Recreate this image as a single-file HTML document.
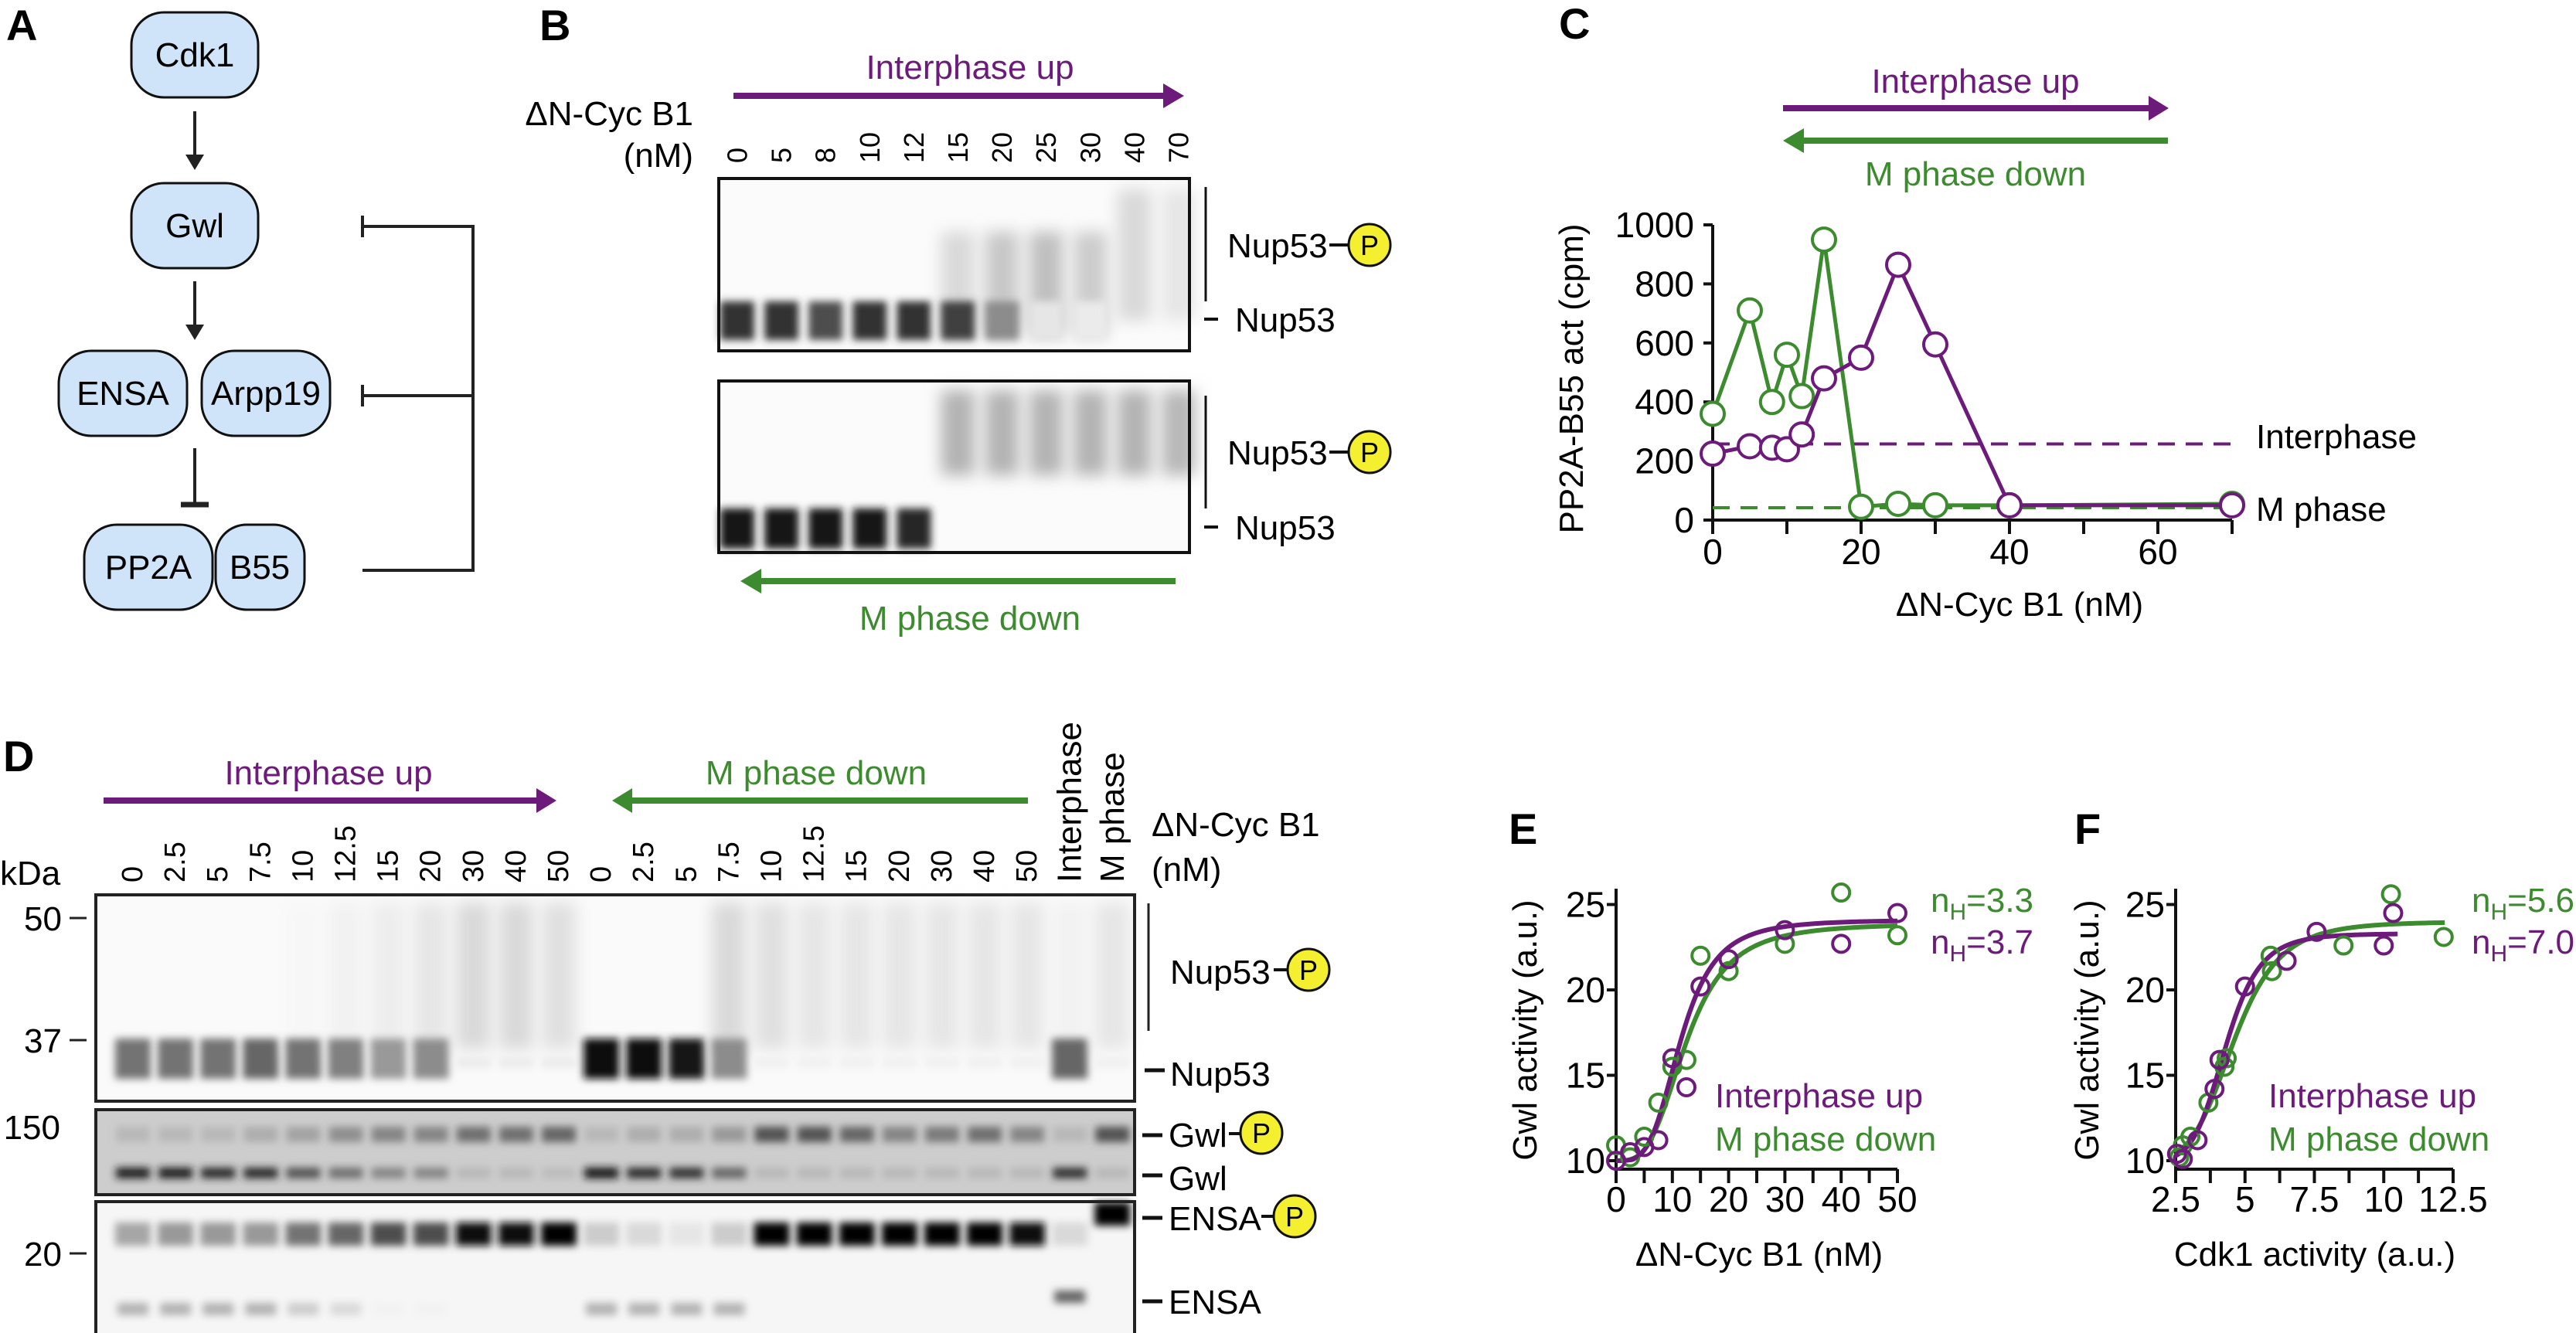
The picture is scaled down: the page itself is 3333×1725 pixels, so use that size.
<!DOCTYPE html>
<html><head><meta charset="utf-8"><style>
html,body{margin:0;padding:0;background:#fff}
svg{display:block}
text{font-family:"Liberation Sans",sans-serif}
</style></head><body>
<svg id="fig" xmlns="http://www.w3.org/2000/svg" width="3333" height="1725" viewBox="0 0 3333 1725">
<defs>
<filter id="b1" x="-50%" y="-100%" width="200%" height="300%"><feGaussianBlur stdDeviation="5"/></filter>
<filter id="b2" x="-50%" y="-50%" width="200%" height="200%"><feGaussianBlur stdDeviation="10"/></filter>
</defs>
<!-- PANEL A -->
<g font-size="44" text-anchor="middle">
<text x="8" y="52" font-size="56" font-weight="bold" text-anchor="start">A</text>
<rect x="170" y="16" width="164" height="110" rx="42" fill="#cfe4f8" stroke="#111" stroke-width="3"/>
<text x="252" y="86">Cdk1</text>
<line x1="252" y1="144" x2="252" y2="205" stroke="#222" stroke-width="4"/>
<polygon points="240,200 264,200 252,220" fill="#222"/>
<rect x="170" y="237" width="164" height="110" rx="42" fill="#cfe4f8" stroke="#111" stroke-width="3"/>
<text x="252" y="307">Gwl</text>
<line x1="252" y1="364" x2="252" y2="425" stroke="#222" stroke-width="4"/>
<polygon points="240,420 264,420 252,440" fill="#222"/>
<rect x="76" y="454" width="166" height="110" rx="42" fill="#cfe4f8" stroke="#111" stroke-width="3"/>
<text x="159" y="524">ENSA</text>
<rect x="261" y="454" width="166" height="110" rx="42" fill="#cfe4f8" stroke="#111" stroke-width="3"/>
<text x="344" y="524">Arpp19</text>
<line x1="252" y1="580" x2="252" y2="652" stroke="#222" stroke-width="4"/>
<line x1="234" y1="653" x2="270" y2="653" stroke="#222" stroke-width="7"/>
<rect x="109" y="679" width="166" height="110" rx="42" fill="#cfe4f8" stroke="#111" stroke-width="3"/>
<text x="192" y="749">PP2A</text>
<rect x="279" y="679" width="115" height="110" rx="40" fill="#cfe4f8" stroke="#111" stroke-width="3"/>
<text x="336" y="749">B55</text>
<g stroke="#222" stroke-width="4" fill="none">
<polyline points="469,293 612,293 612,738 469,738"/>
<line x1="469" y1="512" x2="612" y2="512"/>
<line x1="469" y1="279" x2="469" y2="307"/>
<line x1="469" y1="498" x2="469" y2="526"/>
</g>
</g>
<!-- PANEL B static -->
<g font-size="44">
<text x="698" y="52" font-size="56" font-weight="bold">B</text>
<text x="1255" y="102" fill="#6d1b7b" text-anchor="middle">Interphase up</text>
<line x1="949" y1="124" x2="1510" y2="124" stroke="#6d1b7b" stroke-width="8"/>
<polygon points="1505,108 1532,124 1505,140" fill="#6d1b7b"/>
<text x="897" y="162" text-anchor="end">ΔN-Cyc B1</text>
<text x="897" y="216" text-anchor="end">(nM)</text>
<rect x="930" y="231" width="609" height="223" fill="#fbfbfb"/>
<rect x="930" y="493" width="609" height="222" fill="#fbfbfb"/>
<g id="bblots"></g>
<rect x="930" y="231" width="609" height="223" fill="none" stroke="#111" stroke-width="4"/>
<rect x="930" y="493" width="609" height="222" fill="none" stroke="#111" stroke-width="4"/>
<line x1="1560" y1="242" x2="1560" y2="390" stroke="#111" stroke-width="3"/>
<text x="1588" y="333">Nup53</text>
<line x1="1720" y1="317" x2="1746" y2="317" stroke="#111" stroke-width="4"/>
<circle cx="1772" cy="317" r="27" fill="#f4ef2f" stroke="#111" stroke-width="3"/>
<text x="1772" y="330" font-size="36" text-anchor="middle">P</text>
<line x1="1558" y1="413" x2="1576" y2="413" stroke="#111" stroke-width="4"/>
<text x="1598" y="429">Nup53</text>
<line x1="1560" y1="512" x2="1560" y2="658" stroke="#111" stroke-width="3"/>
<text x="1588" y="601">Nup53</text>
<line x1="1720" y1="585" x2="1746" y2="585" stroke="#111" stroke-width="4"/>
<circle cx="1772" cy="585" r="27" fill="#f4ef2f" stroke="#111" stroke-width="3"/>
<text x="1772" y="598" font-size="36" text-anchor="middle">P</text>
<line x1="1558" y1="682" x2="1576" y2="682" stroke="#111" stroke-width="4"/>
<text x="1598" y="698">Nup53</text>
<line x1="980" y1="752" x2="1521" y2="752" stroke="#3d8b2f" stroke-width="8"/>
<polygon points="985,736 958,752 985,768" fill="#3d8b2f"/>
<text x="1255" y="815" fill="#3d8b2f" text-anchor="middle">M phase down</text>
</g>
<!-- PANEL C -->
<g id="pc" font-size="44">
<text x="2017" y="50" font-size="56" font-weight="bold">C</text>
<text x="2556" y="120" fill="#6d1b7b" text-anchor="middle">Interphase up</text>
<line x1="2307" y1="140" x2="2785" y2="140" stroke="#6d1b7b" stroke-width="8"/>
<polygon points="2780,124 2806,140 2780,156" fill="#6d1b7b"/>
<line x1="2330" y1="182" x2="2805" y2="182" stroke="#3d8b2f" stroke-width="8"/>
<polygon points="2334,166 2307,182 2334,198" fill="#3d8b2f"/>
<text x="2556" y="240" fill="#3d8b2f" text-anchor="middle">M phase down</text>
<text transform="translate(2048,490) rotate(-90)" text-anchor="middle">PP2A-B55 act (cpm)</text>
<text x="2613" y="797" text-anchor="middle">ΔN-Cyc B1 (nM)</text>
</g>
<!-- PANEL D static -->
<g font-size="44">
<text x="4" y="998" font-size="56" font-weight="bold">D</text>
<text x="425" y="1015" fill="#6d1b7b" text-anchor="middle">Interphase up</text>
<line x1="134" y1="1036" x2="698" y2="1036" stroke="#6d1b7b" stroke-width="8"/>
<polygon points="694,1020 720,1036 694,1052" fill="#6d1b7b"/>
<text x="1056" y="1015" fill="#3d8b2f" text-anchor="middle">M phase down</text>
<line x1="815" y1="1036" x2="1330" y2="1036" stroke="#3d8b2f" stroke-width="8"/>
<polygon points="818,1020 792,1036 818,1052" fill="#3d8b2f"/>
<text x="1490" y="1082">ΔN-Cyc B1</text>
<text x="1490" y="1140">(nM)</text>
<text x="0" y="1145">kDa</text>
<rect x="124" y="1158" width="1344" height="267" fill="#fafafa"/>
<rect x="124" y="1436" width="1344" height="110" fill="#cdcdcd"/>
<rect x="124" y="1555" width="1344" height="172" fill="#f6f6f6"/>
<g id="dblots"></g>
<rect x="124" y="1158" width="1344" height="267" fill="none" stroke="#222" stroke-width="4"/>
<rect x="124" y="1436" width="1344" height="110" fill="none" stroke="#222" stroke-width="4"/>
<rect x="124" y="1555" width="1344" height="172" fill="none" stroke="#222" stroke-width="4"/>
<g>
<text x="80" y="1204" text-anchor="end">50</text><line x1="90" y1="1188" x2="112" y2="1188" stroke="#222" stroke-width="3"/>
<text x="80" y="1362" text-anchor="end">37</text><line x1="90" y1="1346" x2="112" y2="1346" stroke="#222" stroke-width="3"/>
<text x="78" y="1474" text-anchor="end">150</text>
<text x="80" y="1638" text-anchor="end">20</text><line x1="90" y1="1622" x2="112" y2="1622" stroke="#222" stroke-width="3"/>
</g>
<line x1="1486" y1="1169" x2="1486" y2="1334" stroke="#222" stroke-width="3"/>
<text x="1514" y="1273">Nup53</text>
<line x1="1648" y1="1255" x2="1668" y2="1255" stroke="#111" stroke-width="4"/>
<circle cx="1693" cy="1255" r="27" fill="#f4ef2f" stroke="#111" stroke-width="3"/>
<text x="1693" y="1268" font-size="36" text-anchor="middle">P</text>
<line x1="1481" y1="1385" x2="1507" y2="1385" stroke="#111" stroke-width="5"/>
<text x="1514" y="1405">Nup53</text>
<line x1="1478" y1="1469" x2="1504" y2="1469" stroke="#111" stroke-width="5"/>
<text x="1512" y="1484">Gwl</text>
<line x1="1590" y1="1467" x2="1608" y2="1467" stroke="#111" stroke-width="4"/>
<circle cx="1632" cy="1466" r="27" fill="#f4ef2f" stroke="#111" stroke-width="3"/>
<text x="1632" y="1479" font-size="36" text-anchor="middle">P</text>
<line x1="1478" y1="1521" x2="1504" y2="1521" stroke="#111" stroke-width="5"/>
<text x="1512" y="1540">Gwl</text>
<line x1="1478" y1="1576" x2="1504" y2="1576" stroke="#111" stroke-width="5"/>
<text x="1512" y="1592">ENSA</text>
<line x1="1632" y1="1574" x2="1650" y2="1574" stroke="#111" stroke-width="4"/>
<circle cx="1675" cy="1574" r="27" fill="#f4ef2f" stroke="#111" stroke-width="3"/>
<text x="1675" y="1587" font-size="36" text-anchor="middle">P</text>
<line x1="1478" y1="1684" x2="1504" y2="1684" stroke="#111" stroke-width="5"/>
<text x="1512" y="1700">ENSA</text>
</g>
<!-- PANEL E / F static -->
<g font-size="44">
<text x="1952" y="1092" font-size="56" font-weight="bold">E</text>
<text x="2684" y="1092" font-size="56" font-weight="bold">F</text>
<text transform="translate(1988,1333) rotate(-90)" text-anchor="middle">Gwl activity (a.u.)</text>
<text transform="translate(2715,1333) rotate(-90)" text-anchor="middle">Gwl activity (a.u.)</text>
<text x="2276" y="1638" text-anchor="middle">ΔN-Cyc B1 (nM)</text>
<text x="2995" y="1638" text-anchor="middle">Cdk1 activity (a.u.)</text>
<text x="2219" y="1433" fill="#6d1b7b">Interphase up</text>
<text x="2219" y="1489" fill="#3d8b2f">M phase down</text>
<text x="2935" y="1433" fill="#6d1b7b">Interphase up</text>
<text x="2935" y="1489" fill="#3d8b2f">M phase down</text>
<text x="2498" y="1180" fill="#3d8b2f">n<tspan font-size="30" dy="10">H</tspan><tspan dy="-10">=3.3</tspan></text>
<text x="2498" y="1234" fill="#6d1b7b">n<tspan font-size="30" dy="10">H</tspan><tspan dy="-10">=3.7</tspan></text>
<text x="3198" y="1180" fill="#3d8b2f">n<tspan font-size="30" dy="10">H</tspan><tspan dy="-10">=5.6</tspan></text>
<text x="3198" y="1234" fill="#6d1b7b">n<tspan font-size="30" dy="10">H</tspan><tspan dy="-10">=7.0</tspan></text>
</g>
<g id="dyn"></g>
</svg>
<script>
// ===== Panel B data =====
const bLanes = ["0","5","8","10","12","15","20","25","30","40","70"];
const bBlot1Band = [0.8,0.8,0.7,0.8,0.8,0.75,0.45,0.1,0.08,0.02,0.02];
const bBlot1Smear = [0,0,0,0,0,0.15,0.22,0.25,0.2,0.15,0.1];
const bBlot2Band = [0.9,0.9,0.9,0.9,0.85,0,0,0,0,0,0];
const bBlot2Smear = [0,0,0,0,0,0.3,0.3,0.3,0.3,0.3,0.28];
// ===== Panel C data =====
const cX = [0,5,8,10,12,15,20,25,30,40,70];
const cInterphaseUp = [225,250,245,240,290,480,550,865,595,50,50];
const cMPhaseDown = [360,710,400,560,420,950,45,55,50,50,55];
const cRefInterphase = 258;
const cRefMPhase = 42;
const cYTicks = [0,200,400,600,800,1000];
const cXTickLabels = [0,20,40,60];
// ===== Panel D data =====
const dLanes = ["0","2.5","5","7.5","10","12.5","15","20","30","40","50","0","2.5","5","7.5","10","12.5","15","20","30","40","50","Interphase","M phase"];
const dNup53 = [.55,.55,.55,.6,.55,.5,.4,.45,.08,.08,.08,.95,.95,.9,.45,.06,.06,.06,.06,.06,.06,.06,.6,.06];
const dNup53P = [0,0,0,0,.03,.05,.07,.1,.15,.15,.12,0,0,0,.15,.12,.1,.1,.1,.1,.1,.1,.05,.1];
const dGwl = [.85,.85,.8,.8,.6,.45,.35,.35,.1,.1,.08,.9,.8,.75,.5,.1,.1,.1,.1,.1,.1,.1,.75,.1];
const dGwlP = [.1,.1,.1,.15,.2,.3,.35,.35,.45,.45,.5,.1,.15,.15,.25,.6,.6,.5,.35,.4,.45,.35,.1,.6];
const dEnsaP = [.35,.4,.4,.4,.55,.6,.7,.7,.95,.95,1,.2,.15,.1,.2,1,1,1,1,1,1,.95,.15,1];
const dEnsa = [.3,.3,.3,.3,.2,.15,.05,.05,0,0,0,.3,.3,.3,.3,0,0,0,0,0,0,0,.6,0];
// ===== Panel E/F data =====
const eGreenX = [0,2.5,5,7.5,10,12.5,15,20,30,40,50];
const eGreenY = [10.9,10.2,11.4,13.4,15.5,15.9,22,21.1,22.7,25.7,23.2];
const ePurpleX = [0,2.5,5,7.5,10,12.5,15,20,30,40,50];
const ePurpleY = [10,10.5,10.8,11.2,16,14.3,20.2,21.8,23.5,22.7,24.5];
const eFitPurple = [10,24.1,11.5,3.7];
const eFitGreen = [10,23.9,12.5,3.3];
const fGreenX = [2.63,2.76,3.03,3.68,4.26,4.34,5.92,5.97,8.55,10.26,12.16];
const fGreenY = [10.2,10.9,11.4,13.4,15.5,16,22,21.1,22.6,25.6,23.1];
const fPurpleX = [2.55,2.76,3.29,3.9,4.08,5.0,6.5,7.58,10.0,10.34];
const fPurpleY = [10.4,10.1,11.2,14.2,15.9,20.2,21.7,23.4,22.6,24.5];
const fFitPurple = [10,23.3,4.3,7];
const fFitGreen = [10,24,4.6,5.6];
const efYTicks = [10,15,20,25];
const eXTickLabels = [0,10,20,30,40,50];
const fXTickLabels = [2.5,5,7.5,10,12.5];

const NS="http://www.w3.org/2000/svg";
const PUR="#6d1b7b", GRN="#3d8b2f";
function mk(tag, attrs, parent){const e=document.createElementNS(NS,tag);for(const k in attrs)e.setAttribute(k,attrs[k]);parent.appendChild(e);return e;}
function txt(s, attrs, parent){const e=mk('text',attrs,parent);e.textContent=s;return e;}
function gray(v){const c=Math.round(255*(1-Math.min(1,v)));return `rgb(${c},${c},${c})`;}

// ---- B blots ----
const bg=document.getElementById('bblots');
const bLaneX=i=>954+i*57.1;
bLanes.forEach((l,i)=>{
  const x=bLaneX(i);
  const t=txt(l,{transform:`translate(${x},211) rotate(-90)`,'font-size':36,'dominant-baseline':'central'},bg);
  
  
  if(bBlot1Smear[i]>0){const s=mk('rect',{x:x-22,y:(i>=9?245:300),width:44,height:(i>=9?170:135),fill:gray(bBlot1Smear[i]),filter:'url(#b2)'},bg);
    
    }
  if(bBlot1Band[i]>0.05){const r=mk('rect',{x:x-22,y:390,width:44,height:50,fill:gray(bBlot1Band[i]),filter:'url(#b1)'},bg);
    
    }
  if(bBlot2Smear[i]>0){const s=mk('rect',{x:x-22,y:505,width:44,height:110,fill:gray(bBlot2Smear[i]),filter:'url(#b2)'},bg);
    
    }
  if(bBlot2Band[i]>0.05){const r=mk('rect',{x:x-22,y:658,width:44,height:52,fill:gray(bBlot2Band[i]),filter:'url(#b1)'},bg);
    
    }
});

// ---- D blots ----
const dg=document.getElementById('dblots');
const dLaneX=i=>172+i*55.1;
dLanes.forEach((l,i)=>{
  const x=dLaneX(i);
  const big=i>=22;
  const t=txt(l,{transform:`translate(${x},1142) rotate(-90)`,'font-size':big?44:38,'dominant-baseline':'central'},dg);
  
  
  if(dNup53P[i]>0){const s=mk('rect',{x:x-22,y:1168,width:44,height:190,fill:gray(dNup53P[i]),filter:'url(#b2)'},dg);
    
    }
  const n=mk('rect',{x:x-23,y:dNup53[i]>0.2?1344:1368,width:46,height:dNup53[i]>0.2?52:14,fill:gray(dNup53[i]),filter:'url(#b1)'},dg);
  
  
  const gp=mk('rect',{x:x-22,y:1458,width:44,height:20,fill:gray(0.2+dGwlP[i]*0.8),filter:'url(#b1)'},dg);
  
  
  const gw=mk('rect',{x:x-22,y:1511,width:44,height:14,fill:gray(0.2+dGwl[i]*0.8),filter:'url(#b1)'},dg);
  
  
  const ep=mk('rect',{x:x-23,y:(i===23?1556:1582),width:46,height:30,fill:gray(dEnsaP[i]),filter:'url(#b1)'},dg);
  
  
  if(dEnsa[i]>0){const e=mk('rect',{x:x-20,y:(i===22?1670:1686),width:40,height:16,fill:gray(dEnsa[i]),filter:'url(#b1)'},dg);
    
    }
});

// ---- Panel C chart ----
const dyn=document.getElementById('dyn');
const cx=v=>2216+v*9.6, cy=v=>673-v*0.382;
const cAx=mk('g',{stroke:'#111','stroke-width':4},dyn);


mk('line',{x1:cx(0),y1:cy(0),x2:cx(0),y2:cy(1000)},cAx);
mk('line',{x1:cx(0)-12,y1:cy(0),x2:cx(70),y2:cy(0)},cAx);
cYTicks.forEach(v=>{mk('line',{x1:cx(0)-12,y1:cy(v),x2:cx(0),y2:cy(v)},cAx);
  const t=txt(String(v),{x:2192,y:cy(v)+16,'text-anchor':'end','font-size':46},dyn);
  
  });
for(let v=0;v<=70;v+=10){mk('line',{x1:cx(v),y1:cy(0),x2:cx(v),y2:cy(0)+18},cAx);}
cXTickLabels.forEach(v=>{const t=txt(String(v),{x:cx(v),y:730,'text-anchor':'middle','font-size':46},dyn);
  
  });
const r1=mk('line',{x1:cx(0),y1:cy(cRefInterphase),x2:2896,y2:cy(cRefInterphase),stroke:PUR,'stroke-width':4,'stroke-dasharray':'22,14'},dyn);


const r2=mk('line',{x1:cx(0),y1:cy(cRefMPhase),x2:2896,y2:cy(cRefMPhase),stroke:'#3d8b2f','stroke-width':4,'stroke-dasharray':'22,14'},dyn);


const t1=txt('Interphase',{x:2919,y:580,'font-size':44},dyn);


const t2=txt('M phase',{x:2919,y:674,'font-size':44},dyn);


function series(xs,ys,col,name,fx,fy,r,sw){
  const g=mk('g',{},dyn);
  
  
  mk('polyline',{points:xs.map((x,i)=>fx(x)+','+fy(ys[i])).join(' '),fill:'none',stroke:col,'stroke-width':sw},g);
  xs.forEach((x,i)=>{const c=mk('circle',{cx:fx(x),cy:fy(ys[i]),r:r,fill:'#fff',stroke:col,'stroke-width':4},g);
    
    });
}
series(cX,cMPhaseDown,GRN,'c-m-phase-down-series',cx,cy,15,5);
series(cX,cInterphaseUp,PUR,'c-interphase-up-series',cx,cy,15,5);

// ---- Panels E/F ----
const efy=v=>1502-(v-10)*22.1;
function hill(p,x){return p[0]+(p[1]-p[0])*Math.pow(x,p[3])/(Math.pow(p[2],p[3])+Math.pow(x,p[3]));}
function efPanel(pre,fx,x0,x1,xt,xLabels,gx,gy,px,py,fitG,fitP,gRange,pRange){
  const ax=mk('g',{stroke:'#111','stroke-width':4},dyn);
  
  
  mk('line',{x1:fx(x0),y1:1513,x2:fx(x0),y2:1150},ax);
  mk('line',{x1:fx(x0)-2,y1:1513,x2:fx(x1),y2:1513},ax);
  efYTicks.forEach(v=>{mk('line',{x1:fx(x0)-12,y1:efy(v),x2:fx(x0),y2:efy(v)},ax);
    const t=txt(String(v),{x:fx(x0)-14,y:efy(v)+16,'text-anchor':'end','font-size':46},dyn);
    
    });
  for(let v=x0;v<=x1+1e-6;v+=xt)mk('line',{x1:fx(v),y1:1513,x2:fx(v),y2:1531},ax);
  xLabels.forEach(v=>{const t=txt(String(v),{x:fx(v),y:1568,'text-anchor':'middle','font-size':46},dyn);
    
    });
  [[fitG,gRange,GRN,'green'],[fitP,pRange,PUR,'purple']].forEach(([p,rg,col,nm])=>{
    const pts=[];for(let k=0;k<=120;k++){const x=rg[0]+(rg[1]-rg[0])*k/120;pts.push(fx(x)+','+efy(hill(p,x)));}
    const pl=mk('polyline',{points:pts.join(' '),fill:'none',stroke:col,'stroke-width':6},dyn);
    
    });
  [[gx,gy,GRN,'green'],[px,py,PUR,'purple']].forEach(([xs,ys,col,nm])=>{
    xs.forEach((x,i)=>{const c=mk('circle',{cx:fx(x),cy:efy(ys[i]),r:11,fill:'none',stroke:col,'stroke-width':4},dyn);
      
      });});
}
efPanel('e',v=>2091+v*7.28,0,50,5,eXTickLabels,eGreenX,eGreenY,ePurpleX,ePurpleY,eFitGreen,eFitPurple,[0,50],[0,50]);
efPanel('f',v=>2815+(v-2.5)*35.9,2.5,12.5,1.25,fXTickLabels,fGreenX,fGreenY,fPurpleX,fPurpleY,fFitGreen,fFitPurple,[2.5,12.2],[2.5,10.5]);
</script>
</body></html>
